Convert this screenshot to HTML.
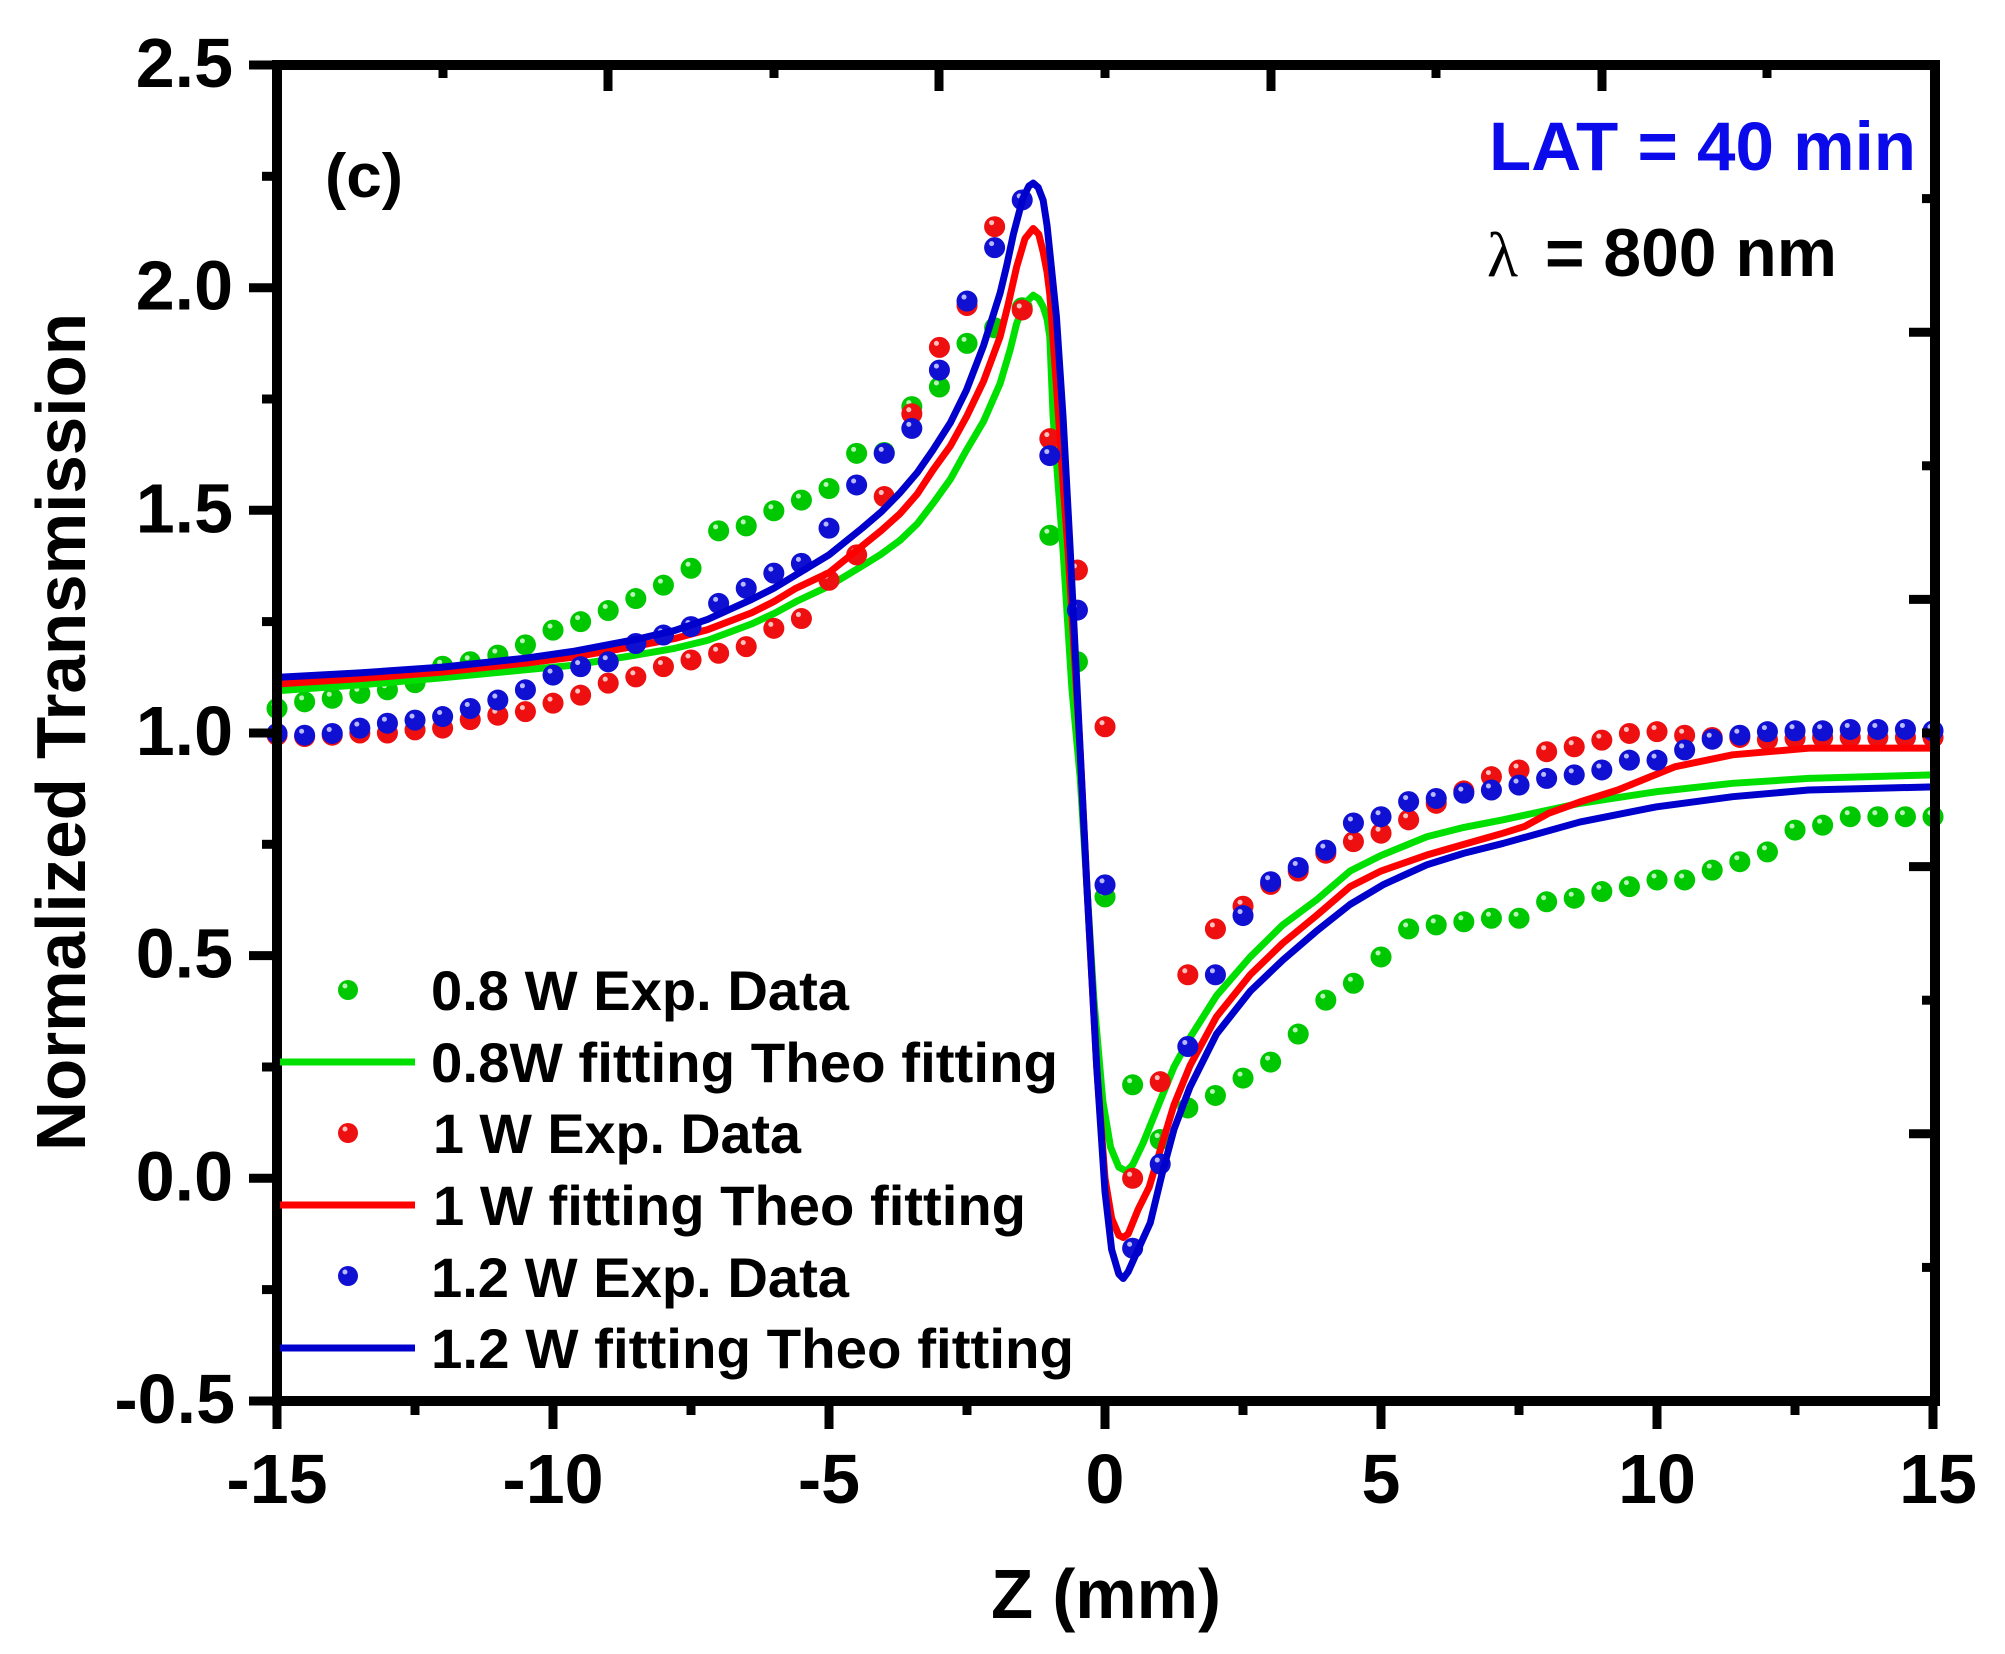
<!DOCTYPE html>
<html>
<head>
<meta charset="utf-8">
<style>
html,body{margin:0;padding:0;background:#fff;}
svg{display:block;}
</style>
</head>
<body>
<svg xmlns="http://www.w3.org/2000/svg" width="2005" height="1654" viewBox="0 0 2005 1654" font-family="'Liberation Sans', Arial, sans-serif" font-weight="bold">
<rect width="2005" height="1654" fill="#fff"/>
<defs>
<path id="gd" vector-effect="non-scaling-stroke" d="M-15 1.055h.001M-14.5 1.07h.001M-14 1.078h.001M-13.5 1.089h.001M-13 1.097h.001M-12.5 1.113h.001M-12 1.15h.001M-11.5 1.16h.001M-11 1.175h.001M-10.5 1.198h.001M-10 1.231h.001M-9.5 1.25h.001M-9 1.275h.001M-8.5 1.302h.001M-8 1.332h.001M-7.5 1.37h.001M-7 1.454h.001M-6.5 1.465h.001M-6 1.499h.001M-5.5 1.523h.001M-5 1.549h.001M-4.5 1.628h.001M-4 1.63h.001M-3.5 1.733h.001M-3 1.777h.001M-2.5 1.875h.001M-2 1.91h.001M-1.5 1.955h.001M-1 1.444h.001M-.5 1.16h.001M0 .632h.001M.5 .21h.001M1 .087h.001M1.5 .158h.001M2 .186h.001M2.5 .225h.001M3 .261h.001M3.5 .324h.001M4 .4h.001M4.5 .438h.001M5 .497h.001M5.5 .56h.001M6 .569h.001M6.5 .576h.001M7 .584h.001M7.5 .584h.001M8 .621h.001M8.5 .629h.001M9 .644h.001M9.5 .655h.001M10 .67h.001M10.5 .67h.001M11 .692h.001M11.5 .711h.001M12 .733h.001M12.5 .782h.001M13 .793h.001M13.5 .812h.001M14 .812h.001M14.5 .812h.001M15 .812h.001"/>
<path id="rd" vector-effect="non-scaling-stroke" d="M-15 .995h.001M-14.5 .992h.001M-14 .995h.001M-13.5 1h.001M-13 1h.001M-12.5 1.007h.001M-12 1.011h.001M-11.5 1.03h.001M-11 1.04h.001M-10.5 1.048h.001M-10 1.067h.001M-9.5 1.085h.001M-9 1.112h.001M-8.5 1.126h.001M-8 1.149h.001M-7.5 1.164h.001M-7 1.179h.001M-6.5 1.194h.001M-6 1.235h.001M-5.5 1.257h.001M-5 1.343h.001M-4.5 1.4h.001M-4 1.531h.001M-3.5 1.717h.001M-3 1.866h.001M-2.5 1.96h.001M-2 2.137h.001M-1.5 1.95h.001M-1 1.661h.001M-.5 1.366h.001M0 1.014h.001M.5 0h.001M1 .217h.001M1.5 .457h.001M2 .56h.001M2.5 .611h.001M3 .66h.001M3.5 .69h.001M4 .73h.001M4.5 .756h.001M5 .775h.001M5.5 .805h.001M6 .842h.001M6.5 .87h.001M7 .902h.001M7.5 .917h.001M8 .958h.001M8.5 .969h.001M9 .984h.001M9.5 .999h.001M10 1.003h.001M10.5 .995h.001M11 .99h.001M11.5 .99h.001M12 .985h.001M12.5 .988h.001M13 .99h.001M13.5 .99h.001M14 .99h.001M14.5 .99h.001M15 .99h.001"/>
<path id="bd" vector-effect="non-scaling-stroke" d="M-15 .999h.001M-14.5 .995h.001M-14 .999h.001M-13.5 1.011h.001M-13 1.022h.001M-12.5 1.029h.001M-12 1.037h.001M-11.5 1.055h.001M-11 1.074h.001M-10.5 1.097h.001M-10 1.13h.001M-9.5 1.149h.001M-9 1.16h.001M-8.5 1.201h.001M-8 1.22h.001M-7.5 1.239h.001M-7 1.291h.001M-6.5 1.325h.001M-6 1.359h.001M-5.5 1.381h.001M-5 1.46h.001M-4.5 1.557h.001M-4 1.628h.001M-3.5 1.684h.001M-3 1.815h.001M-2.5 1.97h.001M-2 2.09h.001M-1.5 2.197h.001M-1 1.623h.001M-.5 1.276h.001M0 .659h.001M.5 -.157h.001M1 .032h.001M1.5 .296h.001M2 .457h.001M2.5 .59h.001M3 .666h.001M3.5 .698h.001M4 .737h.001M4.5 .798h.001M5 .812h.001M5.5 .846h.001M6 .853h.001M6.5 .865h.001M7 .872h.001M7.5 .883h.001M8 .898h.001M8.5 .906h.001M9 .917h.001M9.5 .939h.001M10 .939h.001M10.5 .962h.001M11 .986h.001M11.5 .995h.001M12 1.003h.001M12.5 1.005h.001M13 1.005h.001M13.5 1.008h.001M14 1.008h.001M14.5 1.008h.001M15 1.005h.001"/>
<path id="gl" vector-effect="non-scaling-stroke" d="M-15 1.095L-13.5 1.108-12 1.124-10.5 1.142-9.65 1.152-8.5 1.175-7.8 1.19-7.2 1.208-6.4 1.245-6 1.268-5.6 1.295-5 1.33-4.4 1.375-4.05 1.402-3.71 1.433-3.4 1.47-3.12 1.515-2.8 1.57-2.51 1.635-2.2 1.7-1.9 1.785-1.72 1.86-1.6 1.92-1.45 1.965-1.3 1.983-1.2 1.975-1.12 1.957-1.05 1.93-1 1.89-.94 1.71-.85 1.56-.76 1.41-.6 1.1-.45 .9-.33 .66-.2 .4-.04 .174 .1 .07 .25 .025 .39 .016 .5 .03 .69 .079 1 .174 1.25 .25 1.54 .316 2.02 .41 2.63 .497 3.22 .569 3.83 .625 4.44 .69 5 .725 5.83 .767 6.5 .788 7.21 .805 8.6 .842 9.98 .868 11.37 .887 12.75 .898 15 .906"/>
<path id="rl" vector-effect="non-scaling-stroke" d="M-15 1.11L-13.5 1.122-12 1.137-10.5 1.157-9.65 1.17-8.5 1.195-7.8 1.212-7.2 1.232-6.4 1.27-6 1.295-5.6 1.325-5 1.36-4.4 1.42-4.05 1.455-3.71 1.493-3.4 1.537-3.12 1.59-2.8 1.645-2.51 1.71-2.2 1.79-1.9 1.89-1.75 1.965-1.6 2.047-1.45 2.11-1.3 2.133-1.2 2.12-1.12 2.08-1.05 2.035-1 1.985-.88 1.78-.76 1.56-.67 1.41-.45 .96-.33 .66-.15 .25 0 0 .12 -.09 .25 -.128 .33 -.133 .42 -.125 .6 -.07 .8 -.02 1 .063 1.25 .165 1.54 .253 2.02 .363 2.63 .457 3.22 .528 3.83 .59 4.44 .655 5 .69 5.83 .726 6.5 .75 7.21 .775 7.6 .79 8.04 .82 8.6 .845 9.29 .872 10.32 .924 11.37 .951 12.75 .966 15 .966"/>
<path id="bl" vector-effect="non-scaling-stroke" d="M-15 1.125L-13.5 1.135-12 1.148-10.5 1.168-9.65 1.183-8.5 1.21-7.8 1.23-7.2 1.255-6.4 1.3-6 1.325-5.6 1.355-5 1.4-4.4 1.46-4.05 1.497-3.71 1.54-3.4 1.585-3.12 1.635-2.8 1.697-2.51 1.77-2.2 1.87-1.9 1.988-1.78 2.05-1.66 2.12-1.49 2.2-1.38 2.228-1.3 2.235-1.21 2.225-1.12 2.196-1.05 2.14-1 2.08-.88 1.935-.76 1.71-.63 1.41-.45 .96-.33 .66-.15 .25 0 -.03 .12 -.16 .25 -.215 .33 -.225 .42 -.21 .6 -.16 .82 -.1 1.03 .008 1.25 .11 1.54 .205 2.02 .324 2.63 .42 3.22 .49 3.83 .555 4.44 .615 5.05 .66 5.83 .704 6.5 .73 7.21 .752 8.6 .8 9.98 .834 11.37 .857 12.75 .872 15 .879"/>
</defs>

<g transform="matrix(55.2 0 0 -445.3 1105 1178.3)" fill="none" stroke-linecap="round" stroke-linejoin="round">
  <use href="#gd" stroke="#00c800" stroke-width="21"/>
</g>
<g transform="translate(-3,-4)"><g transform="matrix(55.2 0 0 -445.3 1105 1178.3)" fill="none" stroke-linecap="round">
  <use href="#gd" stroke="#b6f5b6" stroke-width="5"/>
</g></g>
<g transform="matrix(55.2 0 0 -445.3 1105 1178.3)" fill="none" stroke-linecap="round" stroke-linejoin="round">
  <use href="#gl" stroke="#00e000" stroke-width="7"/>
  <use href="#rd" stroke="#ee1010" stroke-width="21"/>
</g>
<g transform="translate(-3,-4)"><g transform="matrix(55.2 0 0 -445.3 1105 1178.3)" fill="none" stroke-linecap="round">
  <use href="#rd" stroke="#ffc0c0" stroke-width="5"/>
</g></g>
<g transform="matrix(55.2 0 0 -445.3 1105 1178.3)" fill="none" stroke-linecap="round" stroke-linejoin="round">
  <use href="#rl" stroke="#ff0000" stroke-width="7"/>
  <use href="#bd" stroke="#1010d2" stroke-width="21"/>
</g>
<g transform="translate(-3,-4)"><g transform="matrix(55.2 0 0 -445.3 1105 1178.3)" fill="none" stroke-linecap="round">
  <use href="#bd" stroke="#b8b8ff" stroke-width="5"/>
</g></g>
<g transform="matrix(55.2 0 0 -445.3 1105 1178.3)" fill="none" stroke-linecap="round" stroke-linejoin="round">
  <use href="#bl" stroke="#0000cc" stroke-width="7"/>
</g>

<g stroke="#000" stroke-width="10" stroke-linecap="square" fill="none">
  <line x1="277" y1="65" x2="1935" y2="65"/>
  <line x1="277" y1="1401" x2="1935" y2="1401"/>
  <line x1="277" y1="65" x2="277" y2="1401"/>
  <line x1="1935" y1="65" x2="1935" y2="1401"/>
</g>
<g stroke="#000" stroke-width="9" fill="none">
  <line x1="249" y1="65" x2="277" y2="65"/>
  <line x1="249" y1="287.7" x2="277" y2="287.7"/>
  <line x1="249" y1="510.3" x2="277" y2="510.3"/>
  <line x1="249" y1="733" x2="277" y2="733"/>
  <line x1="249" y1="955.6" x2="277" y2="955.6"/>
  <line x1="249" y1="1178.3" x2="277" y2="1178.3"/>
  <line x1="249" y1="1401" x2="277" y2="1401"/>
  <line x1="262" y1="176.3" x2="277" y2="176.3"/>
  <line x1="262" y1="399" x2="277" y2="399"/>
  <line x1="262" y1="621.6" x2="277" y2="621.6"/>
  <line x1="262" y1="844.3" x2="277" y2="844.3"/>
  <line x1="262" y1="1067" x2="277" y2="1067"/>
  <line x1="262" y1="1289.6" x2="277" y2="1289.6"/>
  <line x1="277" y1="1401" x2="277" y2="1429"/>
  <line x1="553" y1="1401" x2="553" y2="1429"/>
  <line x1="829" y1="1401" x2="829" y2="1429"/>
  <line x1="1105" y1="1401" x2="1105" y2="1429"/>
  <line x1="1381" y1="1401" x2="1381" y2="1429"/>
  <line x1="1657" y1="1401" x2="1657" y2="1429"/>
  <line x1="1933" y1="1401" x2="1933" y2="1429"/>
  <line x1="415" y1="1401" x2="415" y2="1415"/>
  <line x1="691" y1="1401" x2="691" y2="1415"/>
  <line x1="967" y1="1401" x2="967" y2="1415"/>
  <line x1="1243" y1="1401" x2="1243" y2="1415"/>
  <line x1="1519" y1="1401" x2="1519" y2="1415"/>
  <line x1="1795" y1="1401" x2="1795" y2="1415"/>
  <line x1="608" y1="65" x2="608" y2="91"/>
  <line x1="939" y1="65" x2="939" y2="91"/>
  <line x1="1271" y1="65" x2="1271" y2="91"/>
  <line x1="1602" y1="65" x2="1602" y2="91"/>
  <line x1="443" y1="65" x2="443" y2="78"/>
  <line x1="774" y1="65" x2="774" y2="78"/>
  <line x1="1105" y1="65" x2="1105" y2="78"/>
  <line x1="1436" y1="65" x2="1436" y2="78"/>
  <line x1="1767" y1="65" x2="1767" y2="78"/>
  <line x1="1909" y1="332.2" x2="1935" y2="332.2"/>
  <line x1="1909" y1="599.4" x2="1935" y2="599.4"/>
  <line x1="1909" y1="866.6" x2="1935" y2="866.6"/>
  <line x1="1909" y1="1133.8" x2="1935" y2="1133.8"/>
  <line x1="1922" y1="198.6" x2="1935" y2="198.6"/>
  <line x1="1922" y1="465.8" x2="1935" y2="465.8"/>
  <line x1="1922" y1="733" x2="1935" y2="733"/>
  <line x1="1922" y1="1000.2" x2="1935" y2="1000.2"/>
  <line x1="1922" y1="1267.4" x2="1935" y2="1267.4"/>
</g>

<g font-size="70" text-anchor="end" fill="#000">
  <text x="233" y="87">2.5</text>
  <text x="233" y="309.7">2.0</text>
  <text x="233" y="532.3">1.5</text>
  <text x="233" y="755">1.0</text>
  <text x="233" y="977.6">0.5</text>
  <text x="233" y="1200.3">0.0</text>
  <text x="235" y="1423">-0.5</text>
</g>
<g font-size="70" text-anchor="middle" fill="#000">
  <text x="277" y="1503">-15</text>
  <text x="553" y="1503">-10</text>
  <text x="829" y="1503">-5</text>
  <text x="1105" y="1503">0</text>
  <text x="1381" y="1503">5</text>
  <text x="1657" y="1503">10</text>
  <text x="1938" y="1503">15</text>
</g>

<text x="1106" y="1618" font-size="70" text-anchor="middle" textLength="230" lengthAdjust="spacingAndGlyphs">Z (mm)</text>
<text transform="translate(85 732) rotate(-90)" x="0" y="0" font-size="70" text-anchor="middle" textLength="838" lengthAdjust="spacingAndGlyphs">Normalized Transmission</text>

<text x="325" y="197" font-size="62" textLength="78" lengthAdjust="spacingAndGlyphs">(c)</text>
<text x="1489" y="170" font-size="69" fill="#0a0aeb" textLength="427" lengthAdjust="spacingAndGlyphs">LAT = 40 min</text>
<text x="1487" y="276" font-size="64" font-weight="normal" font-family="'Liberation Serif', 'Times New Roman', serif">λ</text>
<text x="1545" y="276" font-size="68" textLength="292" lengthAdjust="spacingAndGlyphs">= 800 nm</text>

<circle cx="348" cy="990" r="10" fill="#00c800"/>
<circle cx="345" cy="986" r="2.5" fill="#b6f5b6"/>
<line x1="280" y1="1062" x2="415" y2="1062" stroke="#00e000" stroke-width="7"/>
<circle cx="348" cy="1133" r="10" fill="#ee1010"/>
<circle cx="345" cy="1129" r="2.5" fill="#ffc0c0"/>
<line x1="280" y1="1205" x2="415" y2="1205" stroke="#ff0000" stroke-width="7"/>
<circle cx="348" cy="1276" r="10" fill="#1010d2"/>
<circle cx="345" cy="1272" r="2.5" fill="#b8b8ff"/>
<line x1="280" y1="1348" x2="415" y2="1348" stroke="#0000cc" stroke-width="7"/>
<g font-size="56" fill="#000">
  <text x="431" y="1010" textLength="418" lengthAdjust="spacingAndGlyphs">0.8 W Exp. Data</text>
  <text x="431" y="1082" textLength="627" lengthAdjust="spacingAndGlyphs">0.8W fitting Theo fitting</text>
  <text x="433" y="1153" textLength="368" lengthAdjust="spacingAndGlyphs">1 W Exp. Data</text>
  <text x="433" y="1225" textLength="593" lengthAdjust="spacingAndGlyphs">1 W fitting Theo fitting</text>
  <text x="431" y="1297" textLength="418" lengthAdjust="spacingAndGlyphs">1.2 W Exp. Data</text>
  <text x="431" y="1368" textLength="643" lengthAdjust="spacingAndGlyphs">1.2 W fitting Theo fitting</text>
</g>
</svg>
</body>
</html>
